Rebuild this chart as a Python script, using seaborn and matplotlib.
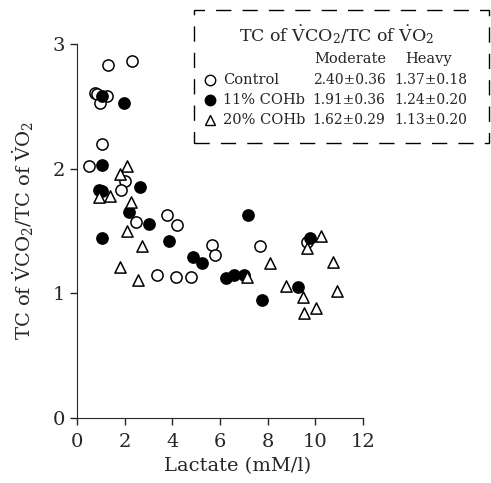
import pandas as pd
import numpy as np
import seaborn as sns
import matplotlib.pyplot as plt
from matplotlib.lines import Line2D
from matplotlib.patches import Rectangle

# values
control_x = [0.76, 0.84, 1.26, 0.97, 1.30, 2.31, 1.05, 0.50, 2.01, 1.85,
             2.48, 3.78, 4.20, 5.67, 5.79, 3.36, 4.15, 4.78, 7.68, 9.65]
control_y = [2.61, 2.60, 2.58, 2.53, 2.83, 2.86, 2.20, 2.02, 1.90, 1.83,
             1.57, 1.63, 1.55, 1.39, 1.31, 1.15, 1.13, 1.13, 1.38, 1.41]
cohb11_x = [1.05, 1.97, 1.05, 2.64, 0.92, 1.05, 2.18, 3.02, 1.05, 3.86,
            4.87, 5.25, 6.25, 6.59, 7.01, 7.18, 7.76, 9.27, 9.78]
cohb11_y = [2.58, 2.53, 2.03, 1.85, 1.83, 1.82, 1.65, 1.56, 1.44, 1.42,
            1.29, 1.24, 1.12, 1.15, 1.15, 1.63, 0.95, 1.05, 1.44]
cohb20_x = [2.10, 1.80, 0.92, 1.38, 2.27, 2.10, 2.73, 1.80, 2.56, 7.13,
            8.10, 10.24, 9.65, 10.74, 8.77, 9.48, 10.91, 9.53, 10.03]
cohb20_y = [2.02, 1.96, 1.77, 1.78, 1.73, 1.50, 1.38, 1.21, 1.11, 1.13,
            1.24, 1.46, 1.36, 1.25, 1.06, 0.97, 1.02, 0.84, 0.88]

groups = ["Control", "11% COHb", "20% COHb"]
moderate = ["2.40\u00b10.36", "1.91\u00b10.36", "1.62\u00b10.29"]
heavy = ["1.37\u00b10.18", "1.24\u00b10.20", "1.13\u00b10.20"]
x_ticks = [0, 2, 4, 6, 8, 10, 12]
y_ticks = [0, 1, 2, 3]

sns.set_style("ticks")
plt.rcParams['font.family'] = ['DejaVu Serif']
plt.rcParams['mathtext.fontset'] = 'dejavuserif'

fig = plt.figure(figsize=(4.91, 4.83), dpi=100)
ax = fig.add_axes([77/491, 1-418/483, 286/491, 374/483])

styles = {
    "Control": dict(marker="o", color="white", edgecolor="black"),
    "11% COHb": dict(marker="o", color="black", edgecolor="black"),
    "20% COHb": dict(marker="^", color="white", edgecolor="black"),
}
data = {
    "Control": (control_x, control_y),
    "11% COHb": (cohb11_x, cohb11_y),
    "20% COHb": (cohb20_x, cohb20_y),
}
for g in groups:
    df = pd.DataFrame({"x": data[g][0], "y": data[g][1]})
    sns.scatterplot(data=df, x="x", y="y", ax=ax, s=65, linewidth=1.1,
                    zorder=3, clip_on=False, **styles[g])

ax.set_xlim(0, 12)
ax.set_ylim(0, 3)
ax.set_xticks(x_ticks)
ax.set_yticks(y_ticks)
ax.tick_params(labelsize=14, length=5, width=1, direction="out")
ax.tick_params(axis="x", pad=6)
sns.despine(ax=ax)
ax.set_xlabel("Lactate (mM/l)", fontsize=14)
ax.xaxis.set_label_coords(0.563, -0.105)
ax.set_ylabel(r"TC of $\dot{\rm V}$CO$_2$/TC of $\dot{\rm V}$O$_2$",
              fontsize=14, labelpad=12)

# legend table in a dashed box
box = Rectangle((194/491, 1-143/483), (489-194)/491, (143-10)/483,
                transform=fig.transFigure, fill=False, edgecolor="black",
                linewidth=1, linestyle=(0, (11, 8)))
fig.add_artist(box)
fig.text(337/491, 1-35/483,
         r"TC of $\dot{\rm V}$CO$_2$/TC of $\dot{\rm V}$O$_2$",
         ha="center", va="center", fontsize=12.5)
fig.text(350/491, 1-59/483, "Moderate", ha="center", va="center", fontsize=10.5)
fig.text(429/491, 1-59/483, "Heavy", ha="center", va="center", fontsize=10.5)
for i, g in enumerate(groups):
    yp = 1 - (80 + 20*i)/483
    st = styles[g]
    fig.add_artist(Line2D([210/491], [yp], marker=st["marker"], markersize=7.5,
                          markerfacecolor=st["color"], markeredgecolor="black",
                          markeredgewidth=1, linestyle="none",
                          transform=fig.transFigure))
    fig.text(223/491, yp, g, ha="left", va="center", fontsize=10.5)
    fig.text(349/491, yp, moderate[i], ha="center", va="center", fontsize=10)
    fig.text(431/491, yp, heavy[i], ha="center", va="center", fontsize=10)

fig.savefig("out.png", dpi=100)
